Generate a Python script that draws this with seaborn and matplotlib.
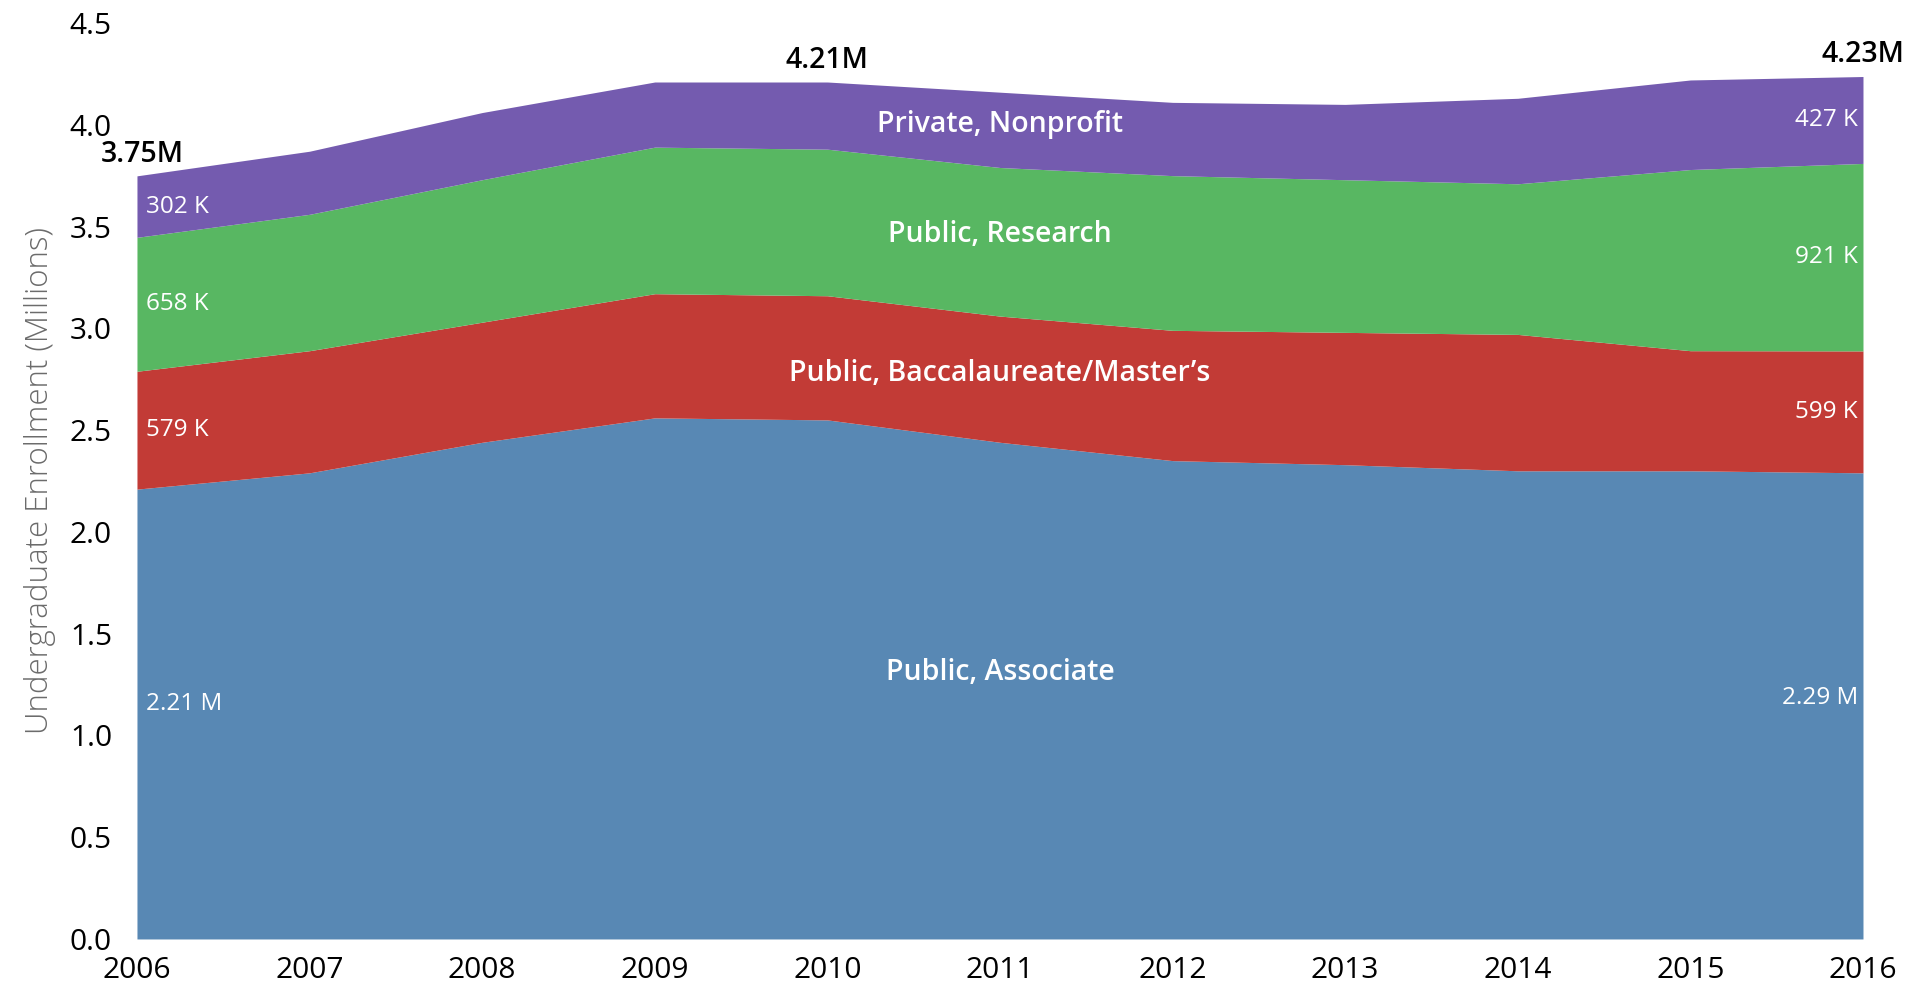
# Undergraduate enrollment by sector, stacked area

import numpy as np
import pandas as pd
import matplotlib
matplotlib.use('Agg')
import matplotlib.pyplot as plt
import seaborn as sns

years = [2006, 2007, 2008, 2009, 2010, 2011, 2012, 2013, 2014, 2015, 2016]

# Enrollment in millions
public_associate = [2.21, 2.29, 2.44, 2.56, 2.55, 2.44, 2.35, 2.33, 2.30, 2.30, 2.29]
public_bacc = [0.579, 0.60, 0.59, 0.61, 0.61, 0.62, 0.64, 0.65, 0.67, 0.59, 0.599]
public_research = [0.658, 0.67, 0.70, 0.72, 0.72, 0.73, 0.76, 0.75, 0.74, 0.89, 0.921]
private_nonprofit = [0.302, 0.31, 0.33, 0.32, 0.33, 0.37, 0.36, 0.37, 0.42, 0.44, 0.427]

sectors = ['Public, Associate', 'Public, Baccalaureate/Master\u2019s',
           'Public, Research', 'Private, Nonprofit']
colors = ['#5888B4', '#C23B36', '#58B762', '#745BAF']

start_labels = ['2.21 M', '579 K', '658 K', '302 K']
end_labels = ['2.29 M', '599 K', '921 K', '427 K']
total_labels = {2006: '3.75M', 2010: '4.21M', 2016: '4.23M'}

enroll_df = pd.DataFrame({'year': years,
                          sectors[0]: public_associate,
                          sectors[1]: public_bacc,
                          sectors[2]: public_research,
                          sectors[3]: private_nonprofit})

sns.set_theme(style='white')
plt.rcParams['font.family'] = ['Open Sans', 'DejaVu Sans']

fig = plt.figure(figsize=(19.21, 9.86), dpi=100)
ax = fig.add_axes([0.0713, 0.0477, 0.8985, 0.929])

ax.stackplot(enroll_df['year'], [enroll_df[s] for s in sectors],
             colors=colors, linewidth=0)

# Cumulative bounds for label placement
stack = np.cumsum(enroll_df[sectors].values, axis=1)
lower = np.hstack([np.zeros((len(years), 1)), stack[:, :-1]])
mids = (stack + lower) / 2

for i, s in enumerate(sectors):
    ax.text(years[0] + 0.05, mids[0, i] + (0.05 if i == 0 else 0), start_labels[i],
            color='white', fontsize=17.5, ha='left', va='center')
    ax.text(years[-1] - 0.03, mids[-1, i] + (0.04 if i == 0 else 0), end_labels[i],
            color='white', fontsize=17.5, ha='right', va='center')

# Sector names in the middle of the chart
mid_year = 2011
name_y = [1.31, 2.78, 3.46, 4.00]
for s, y in zip(sectors, name_y):
    ax.text(mid_year, y, s, color='white', fontsize=20.5, fontweight='semibold',
            ha='center', va='center')

totals = stack[:, -1]
for yr, lab in total_labels.items():
    idx = years.index(yr)
    ax.text(yr + (0.03 if yr == 2006 else 0), totals[idx] + 0.035, lab,
            color='black', fontsize=20.5, fontweight='semibold',
            ha='center', va='bottom')

ax.set_xlim(2006, 2016)
ax.set_ylim(0, 4.5)
ax.set_xticks(years)
ax.set_xticklabels([str(y) for y in years])
ax.set_yticks(np.arange(0, 4.51, 0.5))
ax.set_yticklabels(['%.1f' % v for v in np.arange(0, 4.51, 0.5)])
ax.tick_params(axis='both', length=0, labelsize=21.5, colors='black')
ax.tick_params(axis='x', pad=12)
ax.tick_params(axis='y', pad=18)
ax.set_ylabel('Undergraduate Enrollment (Millions)', fontsize=22.5,
              color='#6b6b6b', fontweight='light', labelpad=10)
sns.despine(ax=ax, left=True, bottom=True)

fig.savefig('out.png', dpi=100)
